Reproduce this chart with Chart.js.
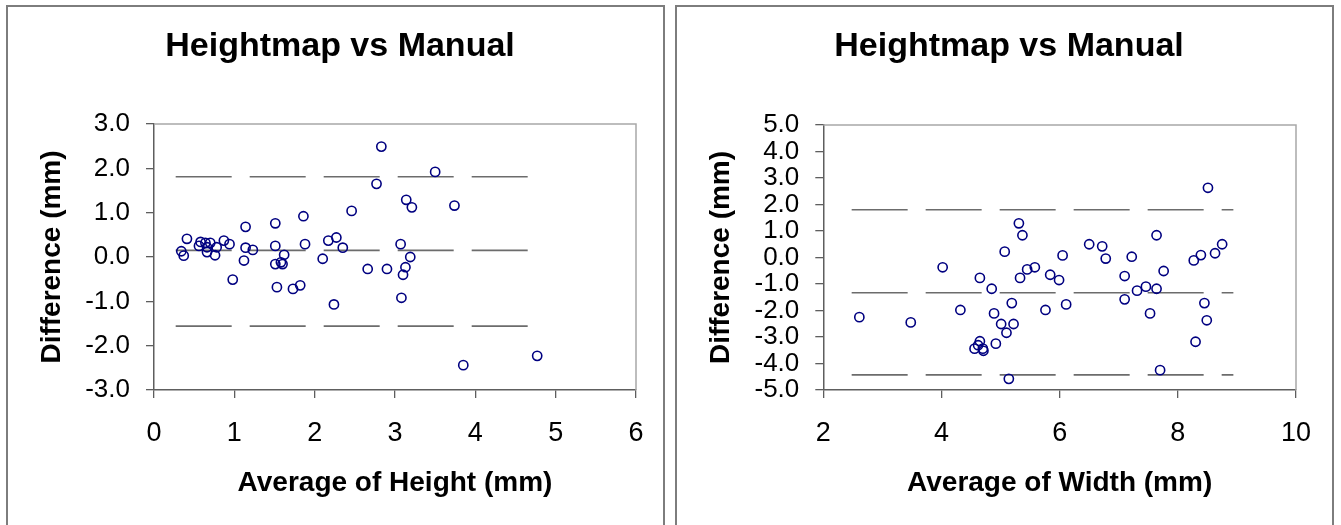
<!DOCTYPE html>
<html>
<head>
<meta charset="utf-8">
<script src="https://cdn.jsdelivr.net/npm/chart.js@4.4.1/dist/chart.umd.min.js"></script>
<style>
  html, body { margin: 0; padding: 0; background: #ffffff; overflow: hidden; }
  body { width: 1341px; height: 525px; position: relative; }
  .panel {
    position: absolute; top: 5px; width: 655px; height: 528px;
    border: 2px solid #7d7d7d; background: #ffffff;
  }
  #panelH { left: 6px; }
  #panelW { left: 675px; }
</style>
</head>
<body>
<div class="panel" id="panelH"><canvas id="chartH"></canvas></div>
<div class="panel" id="panelW"><canvas id="chartW"></canvas></div>
<script>
// Bland-Altman data: heightmap vs manual measurements
const heightAvg = [0.34,0.37,0.41,0.56,0.58,0.64,0.66,0.66,0.70,0.78,0.76,0.87,0.94,0.98,1.14,1.14,1.12,1.23,1.51,1.51,1.51,1.58,1.60,1.62,1.53,1.73,1.82,1.86,1.88,2.10,2.17,2.27,2.35,2.24,2.46,2.66,2.77,2.83,2.90,3.07,3.10,3.08,3.13,3.19,3.14,3.21,3.50,3.74,3.85,4.77];
const heightDiff = [0.13,0.03,0.41,0.25,0.34,0.32,0.22,0.11,0.32,0.22,0.04,0.37,0.29,-0.51,0.68,0.21,-0.08,0.16,0.76,0.25,-0.16,-0.12,-0.16,0.05,-0.68,-0.72,-0.64,0.92,0.29,-0.04,0.37,0.44,0.21,-1.07,1.04,-0.27,1.65,2.49,-0.27,0.29,-0.40,-0.92,-0.23,0.00,1.29,1.12,1.92,1.16,-2.44,-2.23];
const heightLimits = [1.81, 0.15, -1.56];   // upper limit, mean difference, lower limit
const heightLineX = [0.27, 4.68];

const widthAvg = [2.61,3.48,4.02,4.32,4.65,4.56,4.65,4.62,4.70,4.71,4.85,4.89,4.92,5.01,5.10,5.19,5.22,5.14,5.07,5.31,5.37,5.33,5.45,5.58,5.76,5.84,5.99,6.05,6.11,6.50,6.72,6.78,7.10,7.10,7.22,7.31,7.46,7.53,7.64,7.64,7.70,7.76,8.27,8.30,8.39,8.45,8.49,8.51,8.63,8.75];
const widthDiff = [-2.25,-2.45,-0.37,-1.98,-0.77,-3.44,-3.16,-3.31,-3.44,-3.52,-1.18,-2.11,-3.25,-2.51,-2.84,-1.72,-2.51,-4.58,0.22,1.29,0.84,-0.77,-0.45,-0.37,-1.98,-0.65,-0.85,0.08,-1.77,0.50,0.42,-0.04,-0.70,-1.58,0.03,-1.25,-1.10,-2.11,-1.18,0.84,-4.25,-0.51,-0.11,-3.18,0.09,-1.72,-2.37,2.63,0.16,0.50];
const widthLimits = [1.80, -1.33, -4.43];
const widthLineX = [2.48, 8.94];

const chartTitle = 'Heightmap vs Manual';
const yTitle = 'Difference (mm)';
const heightXTitle = 'Average of Height (mm)';
const widthXTitle = 'Average of Width (mm)';

const heightXTicks = [0, 1, 2, 3, 4, 5, 6];
const heightYTicks = [-3, -2, -1, 0, 1, 2, 3];
const widthXTicks = [2, 4, 6, 8, 10];
const widthYTicks = [-5, -4, -3, -2, -1, 0, 1, 2, 3, 4, 5];

const FONT = "'Liberation Sans', Arial, Helvetica, sans-serif";
const AXIS_COLOR = '#5e5e5e';

// thin frame along the top and right of the plot area
const plotFrame = {
  id: 'plotFrame',
  beforeDatasetsDraw(chart) {
    const { ctx, chartArea: a } = chart;
    ctx.save();
    ctx.strokeStyle = '#a8a8a8';
    ctx.lineWidth = 1.5;
    ctx.beginPath();
    ctx.moveTo(a.left, a.top);
    ctx.lineTo(a.right, a.top);
    ctx.lineTo(a.right, a.bottom);
    ctx.stroke();
    ctx.restore();
  }
};

function makeChart(id, avg, diff, limits, lineX, xTitle, xr, yr, geo) {
  const points = avg.map((x, i) => ({ x: x, y: diff[i] }));
  const limitSets = limits.map(v => ({
    type: 'line',
    data: [{ x: lineX[0], y: v }, { x: lineX[1], y: v }],
    borderColor: '#6c6c6c',
    borderWidth: 1.6,
    borderDash: [56, 18],
    pointRadius: 0,
    fill: false,
    order: 2
  }));
  return new Chart(document.getElementById(id), {
    type: 'scatter',
    data: {
      datasets: [{
        data: points,
        pointStyle: 'circle',
        pointRadius: 4.6,
        pointBorderWidth: 1.6,
        borderColor: '#000080',
        backgroundColor: 'rgba(0,0,0,0)',
        order: 1
      }].concat(limitSets)
    },
    options: {
      responsive: true,
      maintainAspectRatio: false,
      animation: false,
      events: [],
      layout: { padding: { left: geo.padLeft, right: 0, top: 0, bottom: 0 } },
      plugins: {
        legend: { display: false },
        tooltip: { enabled: false },
        title: {
          display: true,
          text: chartTitle,
          color: '#000000',
          font: { family: FONT, size: 34, weight: 'bold', lineHeight: 1.2 },
          padding: { top: 19.6, bottom: geo.titleBottom }
        }
      },
      scales: {
        x: {
          type: 'linear',
          min: xr[0], max: xr[1],
          afterFit: s => { s.height = geo.xHeight; },
          afterBuildTicks: s => { s.ticks = xr[2].map(v => ({ value: v })); },
          grid: { drawOnChartArea: false, drawTicks: true, tickLength: 8, color: AXIS_COLOR, lineWidth: 1.3 },
          border: { display: true, color: AXIS_COLOR, width: 1.5 },
          ticks: {
            color: '#000000', padding: 19,
            font: { family: FONT, size: 27 },
            maxRotation: 0, autoSkip: false,
            callback: v => String(v)
          },
          title: {
            display: true, text: xTitle, color: '#000000',
            font: { family: FONT, size: 28, weight: 'bold', lineHeight: 1.2 },
            padding: { top: 0, bottom: 35 }
          }
        },
        y: {
          type: 'linear',
          min: yr[0], max: yr[1],
          afterFit: s => { s.width = geo.yWidth - geo.padLeft; },
          afterBuildTicks: s => { s.ticks = yr[2].map(v => ({ value: v })); },
          grid: { drawOnChartArea: false, drawTicks: true, tickLength: 8, color: AXIS_COLOR, lineWidth: 1.3 },
          border: { display: true, color: AXIS_COLOR, width: 1.5 },
          ticks: {
            color: '#000000', padding: 16,
            font: { family: FONT, size: 26 },
            autoSkip: false,
            callback: v => v.toFixed(1)
          },
          title: {
            display: true, text: yTitle, color: '#000000',
            font: { family: FONT, size: 28, weight: 'bold', lineHeight: 1.2 },
            padding: { top: 27.7 - geo.padLeft, bottom: 0 }
          }
        },
        // empty spacer on the right so the plot ends short of the frame
        spacer: {
          type: 'linear',
          position: 'right',
          display: true,
          afterFit: s => { s.width = geo.padRight; },
          grid: { display: false },
          border: { display: false },
          ticks: { display: false },
          title: { display: false }
        }
      }
    },
    plugins: [plotFrame]
  });
}

makeChart('chartH', heightAvg, heightDiff, heightLimits, heightLineX, heightXTitle,
  [0, 6, heightXTicks], [-3, 3, heightYTicks],
  { padLeft: 9, padRight: 27, titleBottom: 56.6, xHeight: 145, yWidth: 146 });

makeChart('chartW', widthAvg, widthDiff, widthLimits, widthLineX, widthXTitle,
  [2, 10, widthXTicks], [-5, 5, widthYTicks],
  { padLeft: 9, padRight: 36, titleBottom: 57.6, xHeight: 145, yWidth: 146.3 });
</script>
</body>
</html>
